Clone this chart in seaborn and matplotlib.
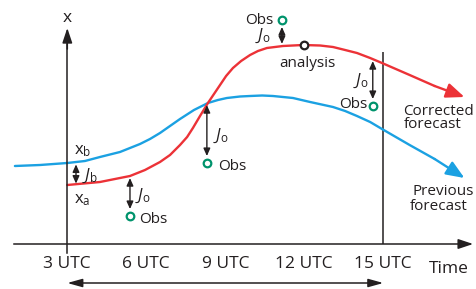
import matplotlib
matplotlib.use("Agg")
import matplotlib.pyplot as plt
import seaborn as sns

# time in UTC hours, model state in arbitrary units (time axis at 0)
prev_time = [1.01, 1.96, 3.0, 3.67, 4.24, 5.0, 5.76, 6.14, 6.52, 6.90, 7.28, 7.81, 8.34, 8.72, 9.06,
             9.56, 9.94, 10.40, 10.81, 11.19, 11.57, 12.22, 13.09, 13.55, 14.0, 14.50, 14.95, 16.0, 16.95, 18.08]
prev_value = [78, 79, 81, 83, 87, 92, 100, 105, 111, 118, 125, 134, 141, 144, 146,
              147.5, 148, 148.5, 148, 147, 146, 142, 137, 133, 128, 122, 115, 99, 85, 66]

corr_time = [3.0, 4.24, 5.38, 5.95, 6.52, 6.90, 7.28, 7.55, 7.77, 8.04, 8.34, 8.57, 8.80, 9.03, 9.29,
             9.60, 9.94, 10.24, 10.58, 11.19, 11.95, 12.60, 13.09, 13.55, 14.0, 14.50, 14.95, 16.0, 16.95, 18.08]
corr_value = [59, 62, 68, 74, 82, 89, 99, 107, 116, 128, 141, 150, 159, 168, 176,
              183, 189, 193, 196, 198, 199, 198.5, 197, 194, 191, 186, 181, 169, 158, 147]

obs_time = [5.38, 8.3, 11.15, 14.6]
obs_value = [28, 81, 224, 138]
model_at_obs = [68, 141, 198, 185]

analysis_time = 12.0
analysis_value = 199
xb_value = 81
xa_value = 59

tick_hours = [3, 6, 9, 12, 15]
tick_labels = ["3 UTC", "6 UTC", "9 UTC", "12 UTC", "15 UTC"]

RED = "#ec3237"
BLUE = "#1ba1e2"
GREEN = "#00936c"
INK = "#231f20"

sns.set_style("white")
plt.rcParams["font.family"] = ["Open Sans", "DejaVu Sans"]
plt.rcParams["mathtext.fontset"] = "custom"
plt.rcParams["mathtext.rm"] = "Open Sans"
plt.rcParams["mathtext.it"] = "Open Sans:italic"
plt.rcParams["text.color"] = INK

fig = plt.figure(figsize=(4.76, 2.89), dpi=100)
ax = fig.add_axes([0, 0, 1, 1])
ax.set_xlim(0.444, 18.52)
ax.set_ylim(-45, 244)

# axes: time axis and state axis
for side in ["top", "right"]:
    ax.spines[side].set_visible(False)
ax.spines["bottom"].set_position(("data", 0))
ax.spines["bottom"].set_bounds(0.98, 18.1)
ax.spines["left"].set_position(("data", tick_hours[0]))
ax.spines["left"].set_bounds(-9, 200)
for side in ["bottom", "left"]:
    ax.spines[side].set_color(INK)
    ax.spines[side].set_linewidth(1.1)
ax.set_yticks([])
ax.set_xticks(tick_hours)
ax.set_xticklabels(tick_labels, fontsize=12.5, color=INK)
ax.tick_params(axis="x", direction="out", length=6.5, width=1.1, color=INK, pad=2)
ax.vlines(tick_hours[-1], 0, 192, color=INK, lw=1.1)

head = dict(color=INK, lw=1.1, mutation_scale=10, shrinkA=0, shrinkB=0)
ax.annotate("", xy=(18.41, 0), xytext=(17.9, 0),
            arrowprops=dict(arrowstyle="-|>,head_length=0.9,head_width=0.3", **head))
ax.annotate("", xy=(tick_hours[0], 216), xytext=(tick_hours[0], 195),
            arrowprops=dict(arrowstyle="-|>,head_length=0.9,head_width=0.3", **head))
ax.annotate("", xy=(tick_hours[-1], -39), xytext=(tick_hours[0], -39),
            arrowprops=dict(arrowstyle="<|-|>,head_length=0.9,head_width=0.25", **head))
ax.text(tick_hours[0], 226, "x", fontsize=12.5, ha="center", va="center")
ax.text(16.73, -29, "Time", fontsize=12.5, va="baseline")

# forecasts
for t, v, c in [(prev_time, prev_value, BLUE), (corr_time, corr_value, RED)]:
    sns.lineplot(x=t[:-1], y=v[:-1], color=c, linewidth=1.7, ax=ax)
    ax.annotate("", xy=(t[-1], v[-1]), xytext=(t[-2], v[-2]),
                arrowprops=dict(arrowstyle="-|>,head_length=1.1,head_width=0.45",
                                color=c, lw=1.7, mutation_scale=10, shrinkA=0, shrinkB=0))

# cost-function arrows
small = "<|-|>,head_length=0.45,head_width=0.2"
ax.annotate("", xy=(3.33, xb_value), xytext=(3.33, xa_value),
            arrowprops=dict(arrowstyle=small, color=INK, lw=1.0, mutation_scale=10, shrinkA=1, shrinkB=1))
for t, m, o in zip(obs_time, model_at_obs, obs_value):
    ax.annotate("", xy=(t, o), xytext=(t, m),
                arrowprops=dict(arrowstyle=small, color=INK, lw=1.0, mutation_scale=10, shrinkA=1.5, shrinkB=5))

sns.scatterplot(x=obs_time, y=obs_value, s=30, marker="o", facecolor="white",
                edgecolor=GREEN, linewidth=1.6, zorder=5, ax=ax)
sns.scatterplot(x=[analysis_time], y=[analysis_value], s=30, marker="o", facecolor="white",
                edgecolor=INK, linewidth=1.6, zorder=5, ax=ax)

fs = 11
ax.text(3.25, 90, r"$\mathrm{x}_\mathrm{b}$", fontsize=fs + 1, va="baseline")
ax.text(3.25, 41, r"$\mathrm{x}_\mathrm{a}$", fontsize=fs + 1, va="baseline")
ax.text(3.56, 64, r"$J_\mathrm{b}$", fontsize=fs + 1, va="baseline")
ax.text(5.57, 44, r"$J_\mathrm{o}$", fontsize=fs + 1, va="baseline")
ax.text(8.53, 104, r"$J_\mathrm{o}$", fontsize=fs + 1, va="baseline")
ax.text(10.72, 204, r"$J_\mathrm{o}$", fontsize=fs + 1, va="baseline", ha="right")
ax.text(14.42, 159, r"$J_\mathrm{o}$", fontsize=fs + 1, va="baseline", ha="right")
ax.text(5.73, 21, "Obs", fontsize=fs, va="baseline")
ax.text(8.73, 74, "Obs", fontsize=fs, va="baseline")
ax.text(10.81, 220, "Obs", fontsize=fs, va="baseline", ha="right")
ax.text(14.39, 136, "Obs", fontsize=fs, va="baseline", ha="right")
ax.text(12.1, 177, "analysis", fontsize=fs, va="baseline", ha="center")
ax.text(15.76, 129, "Corrected", fontsize=fs, va="baseline")
ax.text(15.76, 116, "forecast", fontsize=fs, va="baseline")
ax.text(16.09, 49, "Previous", fontsize=fs, va="baseline")
ax.text(16.0, 34, "forecast", fontsize=fs, va="baseline")

fig.savefig("out.png", dpi=100)
